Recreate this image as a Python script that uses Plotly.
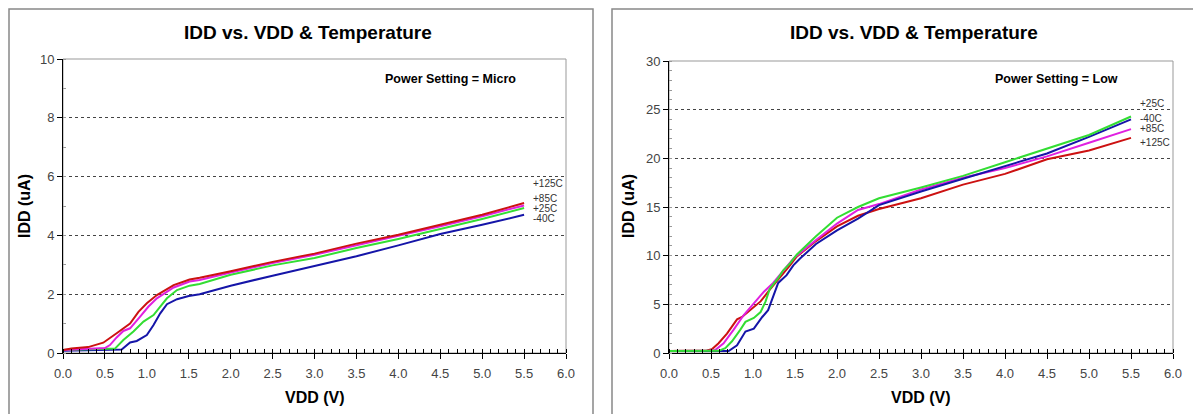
import plotly.graph_objects as go

# The page body has an 8px margin, so the figure is offset by 8px.
OFF = 8
W, H = 1201 - OFF, 414 - OFF

# ---------------- Data: Power Setting = Micro ----------------
micro_red_v = [0.0, 0.1, 0.3, 0.48, 0.64, 0.8, 0.9, 1.0, 1.12, 1.32, 1.51, 1.63, 2.0, 2.5, 3.0, 3.5, 4.0, 4.5, 5.0, 5.5]
micro_red_i = [0.1, 0.15, 0.2, 0.35, 0.67, 1.0, 1.4, 1.69, 1.97, 2.31, 2.5, 2.56, 2.78, 3.1, 3.38, 3.72, 4.02, 4.36, 4.7, 5.1]
micro_mag_v = [0.0, 0.3, 0.5, 0.56, 0.64, 0.72, 0.8, 0.92, 1.02, 1.12, 1.32, 1.51, 1.63, 2.0, 2.5, 3.0, 3.5, 4.0, 4.5, 5.0, 5.5]
micro_mag_i = [0.1, 0.13, 0.17, 0.27, 0.53, 0.75, 0.84, 1.24, 1.58, 1.86, 2.23, 2.43, 2.48, 2.74, 3.06, 3.34, 3.66, 3.97, 4.31, 4.65, 5.02]
micro_grn_v = [0.0, 0.3, 0.62, 0.72, 0.84, 0.96, 1.08, 1.16, 1.24, 1.36, 1.51, 1.63, 2.0, 2.5, 3.0, 3.5, 4.0, 4.5, 5.0, 5.5]
micro_grn_i = [0.1, 0.13, 0.15, 0.44, 0.73, 1.07, 1.29, 1.58, 1.86, 2.14, 2.29, 2.35, 2.66, 2.98, 3.23, 3.57, 3.88, 4.22, 4.56, 4.93]
micro_blu_v = [0.0, 0.4, 0.7, 0.8, 0.88, 1.0, 1.08, 1.16, 1.24, 1.36, 1.5, 1.63, 2.0, 2.5, 3.0, 3.5, 4.0, 4.5, 5.0, 5.5]
micro_blu_i = [0.08, 0.1, 0.12, 0.36, 0.41, 0.61, 0.95, 1.35, 1.66, 1.83, 1.94, 2.0, 2.29, 2.63, 2.95, 3.29, 3.66, 4.05, 4.36, 4.7]

# ---------------- Data: Power Setting = Low ----------------
low_red_v = [0.0, 0.45, 0.51, 0.59, 0.69, 0.81, 0.87, 0.97, 1.09, 1.2, 1.32, 1.44, 1.52, 1.75, 2.0, 2.25, 2.5, 3.0, 3.5, 4.0, 4.5, 5.0, 5.5]
low_red_i = [0.2, 0.25, 0.38, 1.0, 2.0, 3.46, 3.7, 4.4, 5.3, 6.5, 7.7, 9.0, 9.9, 11.5, 13.0, 14.1, 14.8, 15.9, 17.3, 18.4, 19.9, 20.8, 22.1]
low_mag_v = [0.0, 0.5, 0.55, 0.65, 0.77, 0.89, 1.01, 1.13, 1.24, 1.36, 1.48, 1.75, 2.0, 2.25, 2.5, 3.0, 3.5, 4.0, 4.5, 5.0, 5.5]
low_mag_i = [0.2, 0.22, 0.3, 1.0, 2.4, 3.9, 5.1, 6.3, 7.2, 8.4, 9.7, 11.6, 13.3, 14.7, 15.3, 16.8, 18.0, 19.0, 20.2, 21.6, 23.0]
low_grn_v = [0.0, 0.59, 0.67, 0.75, 0.85, 0.91, 1.01, 1.09, 1.15, 1.2, 1.3, 1.36, 1.44, 1.52, 1.75, 2.0, 2.25, 2.5, 3.0, 3.5, 4.0, 4.5, 5.0, 5.5]
low_grn_i = [0.2, 0.22, 0.5, 1.2, 2.4, 3.2, 3.6, 4.2, 5.3, 6.6, 7.7, 8.5, 9.2, 10.1, 12.0, 13.9, 15.0, 15.9, 17.0, 18.2, 19.6, 21.0, 22.4, 24.3]
low_blu_v = [0.0, 0.71, 0.81, 0.91, 1.01, 1.11, 1.18, 1.3, 1.4, 1.48, 1.56, 1.68, 1.75, 2.0, 2.25, 2.5, 3.0, 3.5, 4.0, 4.5, 5.0, 5.5]
low_blu_i = [0.2, 0.2, 0.8, 2.2, 2.5, 3.7, 4.4, 7.2, 8.0, 9.0, 9.7, 10.6, 11.2, 12.6, 13.8, 15.2, 16.6, 17.9, 19.2, 20.5, 22.2, 24.0]

# curve labels (text, y position in data units)
micro_labels = ["+125C", "+85C", "+25C", "-40C"]
micro_label_y = [5.75, 5.27, 4.90, 4.56]
low_labels = ["+25C", "-40C", "+85C", "+125C"]
low_label_y = [25.6, 24.1, 23.1, 21.6]
label_x = 5.58

titles = ["IDD vs. VDD & Temperature", "IDD vs. VDD & Temperature"]
settings = ["Power Setting = Micro", "Power Setting = Low"]

RED, MAG, GRN, BLU = "#CC1111", "#E020E0", "#33DD33", "#1515A8"
FONT = "Liberation Sans, Arial, sans-serif"

fig = go.Figure()

def add(xs, ys, color, xa, ya, name):
    fig.add_trace(go.Scatter(x=xs, y=ys, mode="lines", name=name,
                             line=dict(color=color, width=2),
                             xaxis=xa, yaxis=ya, showlegend=False))

add(micro_blu_v, micro_blu_i, BLU, "x", "y", "-40C")
add(micro_grn_v, micro_grn_i, GRN, "x", "y", "+25C")
add(micro_mag_v, micro_mag_i, MAG, "x", "y", "+85C")
add(micro_red_v, micro_red_i, RED, "x", "y", "+125C")

add(low_red_v, low_red_i, RED, "x2", "y2", "+125C")
add(low_mag_v, low_mag_i, MAG, "x2", "y2", "+85C")
add(low_blu_v, low_blu_i, BLU, "x2", "y2", "-40C")
add(low_grn_v, low_grn_i, GRN, "x2", "y2", "+25C")

def px(x):
    return (x - OFF) / W

def py(y):
    return 1 - (y - OFF) / H

# plot areas (screen pixels)
L = dict(x0=63, x1=566, y0=59, y1=353)
R = dict(x0=669, x1=1173, y0=61, y1=353)

tickfont = dict(family=FONT, size=13, color="#444")

def xaxis_cfg(area):
    return dict(domain=[px(area["x0"]), px(area["x1"])], range=[0, 6],
                tick0=0, dtick=0.5, tickformat=".1f",
                showline=True, linecolor="black", linewidth=1,
                ticks="outside", ticklen=5, tickcolor="black", tickwidth=1,
                minor=dict(dtick=0.1, ticks="inside", ticklen=4, tickcolor="black", tickwidth=1),
                showgrid=False, zeroline=False, tickfont=tickfont,
                ticklabelstandoff=3, automargin=False, fixedrange=True)

def yaxis_cfg(area, rmax, dt, mdt):
    return dict(domain=[py(area["y1"]), py(area["y0"])], range=[0, rmax],
                tick0=0, dtick=dt,
                showline=True, linecolor="black", linewidth=1,
                ticks="outside", ticklen=5, tickcolor="black", tickwidth=1,
                minor=dict(dtick=mdt, ticks="inside", ticklen=3, tickcolor="#999", tickwidth=1),
                showgrid=True, gridcolor="#444", gridwidth=1, griddash="dot",
                zeroline=False, tickfont=tickfont, automargin=False, fixedrange=True)

shapes = []
# outer panel borders (left/top edges of left panel fall in the page margin)
shapes.append(dict(type="rect", xref="paper", yref="paper",
                   x0=px(9), x1=px(593), y0=-0.05, y1=py(9),
                   line=dict(color="#888", width=1.5), layer="below"))
shapes.append(dict(type="rect", xref="paper", yref="paper",
                   x0=px(612), x1=px(1198), y0=-0.05, y1=py(9),
                   line=dict(color="#888", width=1.5), layer="below"))
# plot area frames (gray top/right)
for a in (L, R):
    shapes.append(dict(type="rect", xref="paper", yref="paper",
                       x0=px(a["x0"]), x1=px(a["x1"]), y0=py(a["y1"]), y1=py(a["y0"]),
                       line=dict(color="#999", width=1), layer="below"))

annotations = []
title_font = dict(family=FONT, size=19, color="black")
axis_font = dict(family=FONT, size=16, color="black")
set_font = dict(family=FONT, size=12.5, color="black")
lab_font = dict(family=FONT, size=10, color="#333")

for i, (tx, setx, xlab_x, ylab_x) in enumerate([(308, 450, 315, 25), (914, 1056, 921, 629)]):
    annotations.append(dict(text="<b>%s</b>" % titles[i], xref="paper", yref="paper",
                            x=px(tx), y=py(33), xanchor="center", yanchor="middle",
                            showarrow=False, font=title_font))
    annotations.append(dict(text="<b>%s</b>" % settings[i], xref="paper", yref="paper",
                            x=px(setx), y=py(79), xanchor="center", yanchor="middle",
                            showarrow=False, font=set_font))
    annotations.append(dict(text="<b>VDD (V)</b>", xref="paper", yref="paper",
                            x=px(xlab_x), y=py(397), xanchor="center", yanchor="middle",
                            showarrow=False, font=axis_font))
    annotations.append(dict(text="<b>IDD (uA)</b>", xref="paper", yref="paper",
                            x=px(ylab_x), y=py(206), xanchor="center", yanchor="middle",
                            textangle=-90, showarrow=False, font=axis_font))

for t, yv in zip(micro_labels, micro_label_y):
    annotations.append(dict(text=t, xref="x", yref="y", x=label_x, y=yv,
                            xanchor="left", yanchor="middle", showarrow=False, font=lab_font))
for t, yv in zip(low_labels, low_label_y):
    annotations.append(dict(text=t, xref="x2", yref="y2", x=label_x, y=yv,
                            xanchor="left", yanchor="middle", showarrow=False, font=lab_font))

fig.update_layout(
    width=W, height=H,
    margin=dict(l=0, r=0, t=0, b=0, autoexpand=False),
    paper_bgcolor="white", plot_bgcolor="white",
    xaxis=dict(anchor="y", **xaxis_cfg(L)),
    yaxis=dict(anchor="x", **yaxis_cfg(L, 10, 2, 1)),
    xaxis2=dict(anchor="y2", **xaxis_cfg(R)),
    yaxis2=dict(anchor="x2", **yaxis_cfg(R, 30, 5, 1)),
    shapes=shapes, annotations=annotations,
    font=dict(family=FONT),
    showlegend=False,
)

fig.write_html("out.html", config={"displayModeBar": False})
